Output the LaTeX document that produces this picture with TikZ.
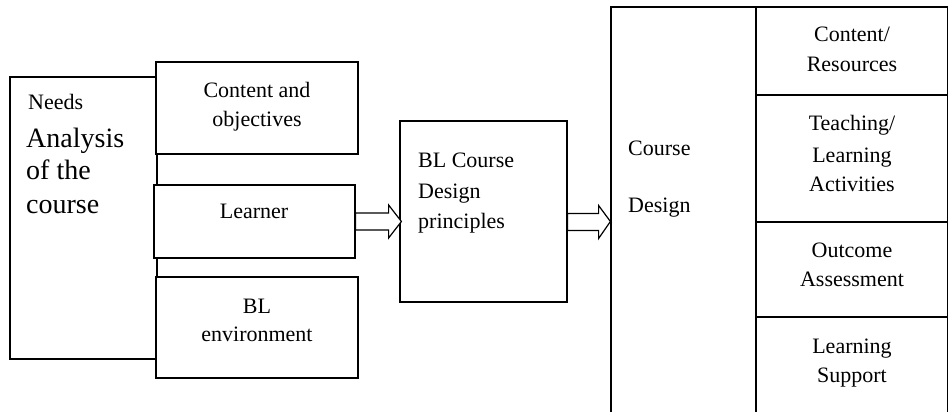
\documentclass[tikz,border=0pt]{standalone}
\usepackage{fontspec}
\setmainfont{Liberation Serif}
\usetikzlibrary{calc}
\begin{document}
\begin{tikzpicture}[x=1pt,y=-1pt,
  box/.style={draw,line width=1.2pt,rectangle,inner sep=0pt},
  txt/.style={font=\fontsize{22}{28}\selectfont,inner sep=0pt,anchor=base},
  bigtxt/.style={font=\fontsize{28}{33}\selectfont,inner sep=0pt,anchor=base west},
  fat/.style={draw,line width=1.2pt,fill=white,line join=miter}]
\useasboundingbox (0,0) rectangle (948,412);
\clip (0,0) rectangle (948,412);
% left boxes
\node[box,minimum width=147,minimum height=282] (needs) at (83.5,218) {};
\node[box,fill=white,minimum width=202,minimum height=92] (content) at (257,108) {};
\node[box,fill=white,minimum width=201,minimum height=73] (learner) at (254.5,221.5) {};
\node[box,fill=white,minimum width=202,minimum height=101] (env) at (257,327.5) {};
\node[box,minimum width=167,minimum height=181] (bl) at (483.5,211.5) {};
% right boxes (extend below the picture)
\node[box,minimum width=145,minimum height=425] (cd) at (683.5,219.5) {};
\node[box,minimum width=192,minimum height=88] (r1) at (852,51) {};
\node[box,minimum width=192,minimum height=127] (r2) at (852,158.5) {};
\node[box,minimum width=192,minimum height=95] (r3) at (852,269.5) {};
\node[box,minimum width=192,minimum height=110] (r4) at (852,372) {};
% texts
\node[txt,anchor=base west] (tneeds) at (28,109) {Needs};
\node[bigtxt] (tana) at (26,147) {Analysis};
\node[bigtxt] (tof) at (26,179) {of the};
\node[bigtxt] (tcourse) at (26,213) {course};
\node[txt] (tc1) at (257,97) {Content and};
\node[txt] (tc2) at (257,126) {objectives};
\node[txt] (tl) at (254,218) {Learner};
\node[txt] (te1) at (257,313) {BL};
\node[txt] (te2) at (257,341) {environment};
\node[txt,anchor=base west] (tb1) at (418,167) {BL Course};
\node[txt,anchor=base west] (tb2) at (418,198) {Design};
\node[txt,anchor=base west] (tb3) at (418,228) {principles};
\node[txt,anchor=base west] (tcd1) at (628,155) {Course};
\node[txt,anchor=base west] (tcd2) at (628,212) {Design};
\node[txt] (tr1a) at (852,42) {Content/};
\node[txt] (tr1b) at (852,72) {Resources};
\node[txt] (tr2a) at (852,130) {Teaching/};
\node[txt] (tr2b) at (852,162) {Learning};
\node[txt] (tr2c) at (852,191) {Activities};
\node[txt] (tr3a) at (852,257) {Outcome};
\node[txt] (tr3b) at (852,286) {Assessment};
\node[txt] (tr4a) at (852,353) {Learning};
\node[txt] (tr4b) at (852,382) {Support};
% block arrows
\draw[fat] ($(learner.east)+(0,-8.5)$) -- ++(33,0) -- ++(0,-8) -- ($(bl.west |- learner.east)+(2,0)$)
  -- ($(learner.east)+(33,16.5)$) -- ++(0,-8) -- ++(-33,0) -- cycle;
\draw[fat] ($(bl.east)+(0,2)$) -- ++(31,0) -- ++(0,-8) -- (cd.west |- learner.east)
  -- ($(bl.east)+(31,27)$) -- ++(0,-8) -- ++(-31,0) -- cycle;
\end{tikzpicture}
\end{document}
